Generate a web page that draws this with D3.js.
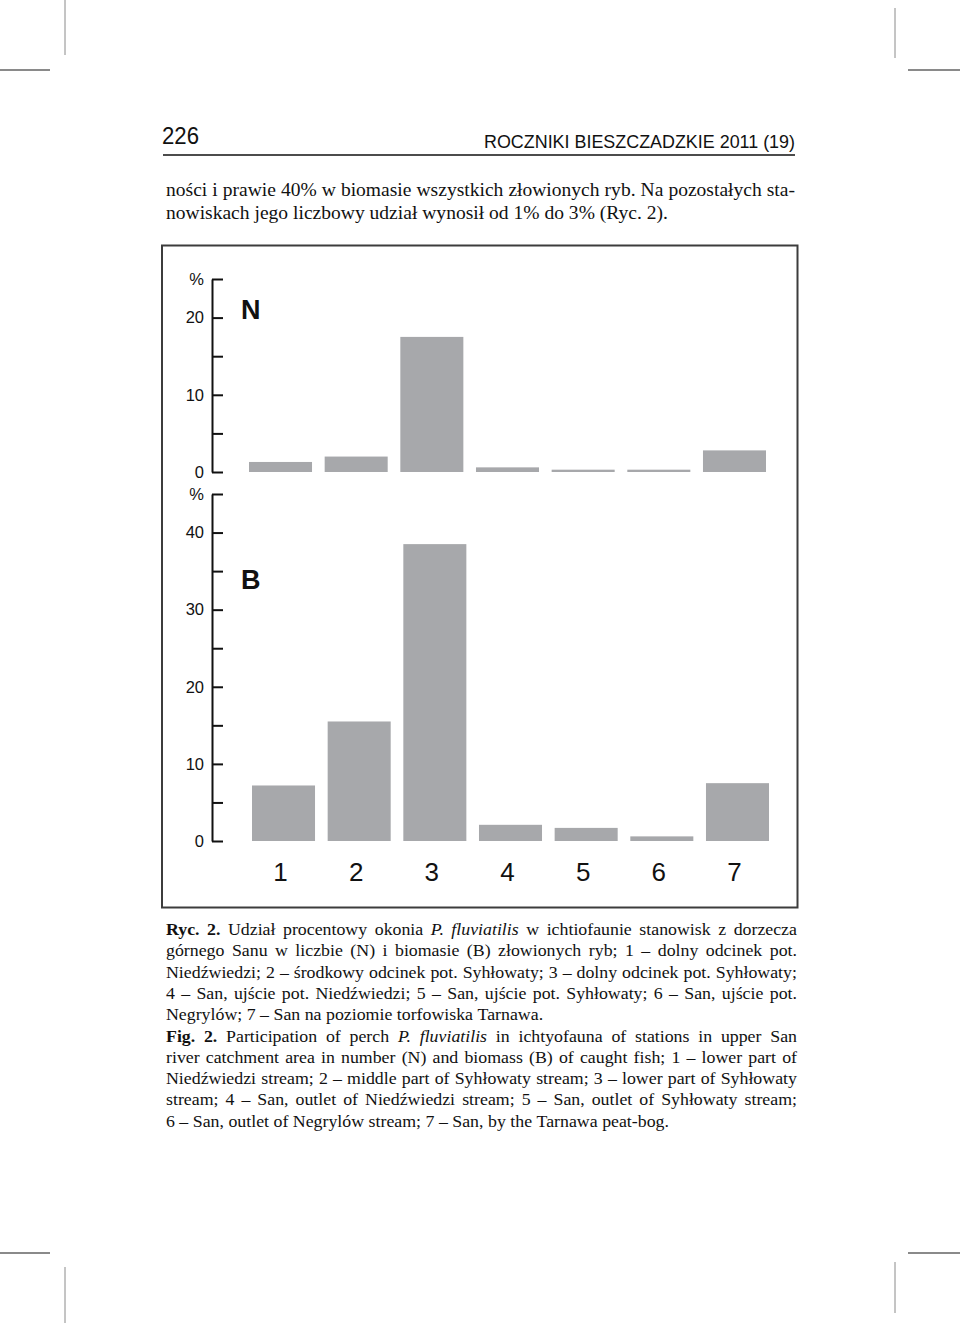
<!DOCTYPE html>
<html><head><meta charset="utf-8">
<script src="https://cdn.jsdelivr.net/npm/d3@7/dist/d3.min.js"></script>
<style>body{margin:0;background:#fff}svg{display:block}</style>
</head><body>
<svg id="c" width="960" height="1323"></svg>
<script>
// ---------- data ----------
const stations = ["1","2","3","4","5","6","7"];
const numberShare  = [1.3, 2.0, 17.5, 0.6, 0.3, 0.3, 2.8];     // N, %
const biomassShare = [7.2, 15.5, 38.5, 2.1, 1.7, 0.6, 7.5];    // B, %
const nTicks = [0, 5, 10, 15, 20, 25];
const nTickLabels = ["0", "", "10", "", "20", "%"];
const bTicks = [0, 5, 10, 15, 20, 25, 30, 35, 40, 45];
const bTickLabels = ["0", "", "10", "", "20", "", "30", "", "40", "%"];
const panelLabels = ["N", "B"];

const pageNumber = "226";
const runningHead = "ROCZNIKI BIESZCZADZKIE 2011 (19)";
const bodyLines = [
  "ności i prawie 40% w biomasie wszystkich złowionych ryb. Na pozostałych sta-",
  "nowiskach jego liczbowy udział wynosił od 1% do 3% (Ryc. 2)."
];
const captionLines = [
  "*Ryc.* *2.* Udział procentowy okonia _P._ _fluviatilis_ w ichtiofaunie stanowisk z dorzecza",
  "górnego Sanu w liczbie (N) i biomasie (B) złowionych ryb; 1 – dolny odcinek pot.",
  "Niedźwiedzi; 2 – środkowy odcinek pot. Syhłowaty; 3 – dolny odcinek pot. Syhłowaty;",
  "4 – San, ujście pot. Niedźwiedzi; 5 – San, ujście pot. Syhłowaty; 6 – San, ujście pot.",
  "Negrylów; 7 – San na poziomie torfowiska Tarnawa.",
  "*Fig.* *2.* Participation of perch _P._ _fluviatilis_ in ichtyofauna of stations in upper San",
  "river catchment area in number (N) and biomass (B) of caught fish; 1 – lower part of",
  "Niedźwiedzi stream; 2 – middle part of Syhłowaty stream; 3 – lower part of Syhłowaty",
  "stream; 4 – San, outlet of Niedźwiedzi stream; 5 – San, outlet of Syhłowaty stream;",
  "6 – San, outlet of Negrylów stream; 7 – San, by the Tarnawa peat-bog."
];
const captionParagraphEnds = [4, 9];

// ---------- page ----------
const svg = d3.select("#c");
const SANS = "'Liberation Sans', Arial, sans-serif";
const SERIF = "'Liberation Serif', 'Times New Roman', serif";

// crop marks
const marks = svg.append("g").attr("stroke", "#8a8a8a");
[[65,0,65,55,1],[0,70,50,70,2],[895,8,895,58,1],[908,70,960,70,2],
 [0,1253,50,1253,2],[65,1267,65,1323,1],[908,1253,960,1253,2],[895,1262,895,1313,1]]
 .forEach(([x1,y1,x2,y2,w]) => marks.append("line").attr("x1",x1).attr("y1",y1).attr("x2",x2).attr("y2",y2).attr("stroke-width",w));

// header
svg.append("text").attr("x",162).attr("y",144).attr("font-family",SANS).attr("font-size",23)
  .attr("textLength",37).attr("lengthAdjust","spacingAndGlyphs").attr("fill","#111").text(pageNumber);
svg.append("text").attr("x",795).attr("y",148).attr("text-anchor","end").attr("font-family",SANS)
  .attr("font-size",18.5).attr("textLength",311).attr("lengthAdjust","spacingAndGlyphs").attr("fill","#111").text(runningHead);
svg.append("line").attr("x1",163).attr("x2",795).attr("y1",155).attr("y2",155).attr("stroke","#111").attr("stroke-width",1.4);

// justified text helper
const meas = svg.append("text").attr("x",100).attr("y",100).attr("opacity",0);
function parseWords(s){
  return s.split(" ").map(w => {
    if (w.length>2 && w.startsWith("*") && w.endsWith("*")) return {t:w.slice(1,-1), b:true};
    if (w.length>2 && w.startsWith("_") && w.endsWith("_")) return {t:w.slice(1,-1), i:true};
    return {t:w};
  });
}
function wlen(w, fam, size){
  meas.attr("font-family",fam).attr("font-size",size)
      .attr("font-weight",w.b?"bold":"normal").attr("font-style",w.i?"italic":"normal").text(w.t);
  return meas.node().getComputedTextLength();
}
function naturalWidth(line, fam, size){
  const ws = parseWords(line);
  return d3.sum(ws, w => wlen(w,fam,size)) + (ws.length-1)*size*0.25;
}
function drawParagraph(lines, lastIdx, x0, y0, lh, width, fam, size, cond){
  lines.forEach((line, k) => {
    const ws = parseWords(line);
    const lens = ws.map(w => wlen(w,fam,size));
    const total = d3.sum(lens);
    const justify = !lastIdx.includes(k);
    const gap = justify ? (width/cond - total)/(ws.length-1) : size*0.25;
    const g = svg.append("g").attr("transform",`translate(${x0},${y0 + k*lh}) scale(${cond},1)`);
    const t = g.append("text").attr("font-family",fam).attr("font-size",size).attr("fill","#111");
    let x = 0;
    ws.forEach((w,j) => {
      t.append("tspan").attr("x",x).attr("y",0)
        .attr("font-weight",w.b?"bold":null).attr("font-style",w.i?"italic":null).text(w.t);
      x += lens[j] + gap;
    });
  });
}

// body text
const bodySize = 19;
const bodyCond = 502 / naturalWidth(bodyLines[1], SERIF, bodySize);
drawParagraph(bodyLines, [1], 166, 196, 23, 629, SERIF, bodySize, bodyCond);

// caption
const capSize = 17;
const capCond = 503 / naturalWidth(captionLines[9], SERIF, capSize);
drawParagraph(captionLines, captionParagraphEnds, 166, 935, 21.3, 631, SERIF, capSize, capCond);
meas.remove();

// ---------- chart ----------
svg.append("rect").attr("x",162).attr("y",245.5).attr("width",635.5).attr("height",662)
  .attr("fill","none").attr("stroke","#3c3c3c").attr("stroke-width",2);

const barColor = "#a7a8ab";
const axisX = 212;

const xN = d3.scaleBand().domain(stations).range([249, 766]).paddingInner(0.167).paddingOuter(0);
const xB = d3.scaleBand().domain(stations).range([252, 769]).paddingInner(0.167).paddingOuter(0);
const yN = d3.scaleLinear().domain([0, 25]).range([472, 279]);
const yB = d3.scaleLinear().domain([0, 45]).range([841, 494]);

function panel(x, y, values, ticks, labels, label, labelY){
  const g = svg.append("g");
  g.selectAll("rect.bar").data(values).join("rect").attr("class","bar")
    .attr("x",(d,i)=>x(stations[i])).attr("width",x.bandwidth())
    .attr("y",d=>y(d)).attr("height",d=>y(0)-y(d)).attr("fill",barColor);
  const ax = g.append("g").attr("transform",`translate(${axisX},0)`)
    .call(d3.axisLeft(y).tickValues(ticks).tickSizeInner(-11).tickSizeOuter(0).tickPadding(8)
      .tickFormat((d,i)=>labels[i]));
  ax.select(".domain").attr("stroke","#111").attr("stroke-width",2);
  ax.selectAll(".tick line").attr("stroke","#111").attr("stroke-width",2);
  ax.selectAll(".tick text").attr("font-family",SANS).attr("font-size",16.5).attr("fill","#111");
  g.append("text").attr("x",241).attr("y",labelY).attr("font-family",SANS).attr("font-weight","bold")
    .attr("font-size",27).attr("fill","#111").text(label);
}
panel(xN, yN, numberShare, nTicks, nTickLabels, panelLabels[0], 319);
panel(xB, yB, biomassShare, bTicks, bTickLabels, panelLabels[1], 589);

svg.append("g").selectAll("text").data(stations).join("text")
  .attr("x", d => xB(d) + xB.bandwidth()/2 - 3).attr("y", 881)
  .attr("text-anchor","middle").attr("font-family",SANS).attr("font-size",26).attr("fill","#111").text(d=>d);
</script>
</body></html>
